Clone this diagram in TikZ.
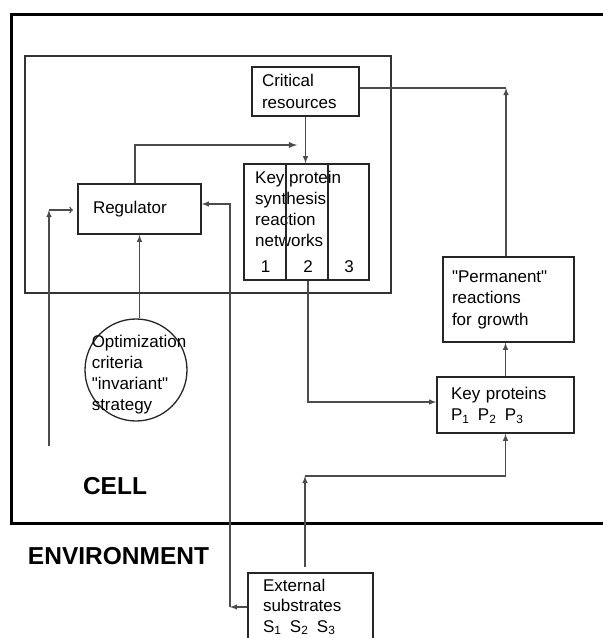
\documentclass[tikz,border=0pt]{standalone}
\usepackage{fontspec}
\setmainfont{Liberation Sans}

\begin{document}
\begin{tikzpicture}[x=1pt, y=-1pt, >=latex,
    box/.style={draw=black!85, line width=1.6pt, font=\fontsize{17}{21.5}\selectfont, align=left, inner ysep=0pt},
    txt/.style={font=\fontsize{17}{21}\selectfont, align=left, inner sep=0pt},
    link/.style={draw=black!70, line width=1.4pt},
    big/.style={font=\fontsize{24.5}{28}\selectfont\bfseries, inner sep=0pt}]
    % 0. Vung ve
    \clip (0,0) rectangle (603,638);

    % 1. Khung te bao va khung dieu khien
    \draw[line width=3pt] (603,14) -- (11,14) -- (11,523) -- (603,523);
    \draw[line width=2pt, black!80] (25,56) rectangle (391,293);

    % 2. Cac hop
    \node[box, minimum width=107, minimum height=49, text width=87, inner xsep=10] (crit) at (305.5,91.5) {Critical\\resources};
    \node[box, minimum width=125, minimum height=116] (keysyn) at (306.5,222) {};
    \node[txt, anchor=north west] (keysyntxt) at (255,171) {Key protein\\synthesis\\reaction\\networks};
    \draw[box] ([xshift=43]keysyn.north west) -- ([xshift=43]keysyn.south west);
    \draw[box] ([xshift=85]keysyn.north west) -- ([xshift=85]keysyn.south west);
    \node[txt, anchor=base] (n1) at (265.5,272) {1};
    \node[txt, anchor=base] (n2) at (308,272) {2};
    \node[txt, anchor=base] (n3) at (349,272) {3};
    \node[box, minimum width=123, minimum height=50, text width=93, inner xsep=15] (reg) at (139.5,209) {Regulator};
    \node[box, minimum width=131, minimum height=85, text width=113, inner xsep=9] (perm) at (508.5,299.5) {\textquotedbl Permanent\textquotedbl\\reactions\\for growth};
    \node[box, minimum width=137, minimum height=56, text width=109, inner xsep=14] (keyprot) at (505.5,405) {Key proteins\\P\textsubscript{1}\enspace P\textsubscript{2}\enspace P\textsubscript{3}};
    \node[box, anchor=north, text width=95, inner xsep=15, inner ysep=6, font=\fontsize{17}{20.5}\selectfont] (subs) at (310.5,572) {External\\substrates\\S\textsubscript{1}\enspace S\textsubscript{2}\enspace S\textsubscript{3}};

    % 3. Vong tron tieu chi
    \node[circle, draw=black!85, line width=1.3pt, minimum size=102] (opt) at (136,370) {};
    \node[txt] (opttxt) at (139,375) {Optimization\\criteria\\\textquotedbl invariant\textquotedbl\\strategy};

    % 4. Nhan
    \node[big] (cell) at (115,486) {CELL};
    \node[big] (env) at (118.5,556) {ENVIRONMENT};

    % 5. Cac mui ten
    \coordinate (syntip) at (297,145);
    \coordinate (critcorner) at (506,88);
    \coordinate (subtop) at (305,567);
    \coordinate (subcorner) at (305,476);
    \coordinate (leftbot) at (230,607);
    \coordinate (leftfree) at (49,446);
    \coordinate (leftcorner) at (49,210);
    \coordinate (regin) at (73,210);

    \draw[link, ->] (crit.south) -- (crit.south |- keysyn.north);
    \draw[link, ->, line width=1.8pt] ([xshift=-4.5]reg.north) |- (syntip);
    \draw[link, ->] ([xshift=-2.5]perm.north) -- (critcorner);
    \draw[link] (critcorner) -- (crit.east |- critcorner);
    \draw[link, ->] ([xshift=1.5]keysyn.south) |- ([yshift=3]keyprot.west);
    \draw[link, ->] (keyprot.north) -- (keyprot.north |- perm.south);
    \draw[link, ->] (subtop) -- (subcorner);
    \draw[link, ->] (subcorner) -| (keyprot.south);
    \draw[link, ->] (subs.west |- leftbot) -- (leftbot);
    \draw[link, ->] (leftbot) |- ([yshift=5]reg.east);
    \draw[link, ->] (leftfree) -- (leftcorner);
    \draw[link, -to] (leftcorner) -- (regin);
    \draw[link, ->] (reg.south |- opt.north) -- (reg.south);
\end{tikzpicture}
\end{document}
